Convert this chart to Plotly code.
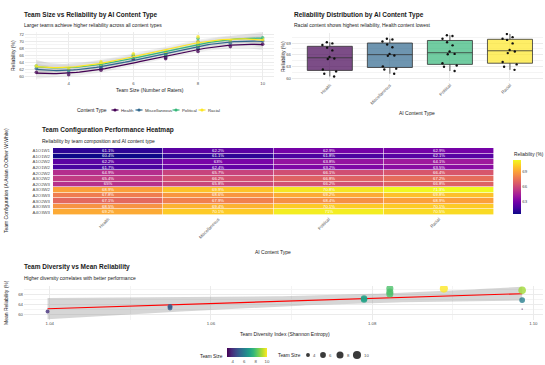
import numpy as np
import plotly.graph_objects as go

# ---------------- data ----------------
content_types = ["Health", "Miscellaneous", "Political", "Racial"]
type_colors = ["#440154", "#31688E", "#35B779", "#FDE725"]
type_fills = ["rgba(68,1,84,0.7)", "rgba(49,104,142,0.7)",
              "rgba(53,183,121,0.7)", "rgba(253,231,37,0.7)"]

team_configs = ["A1O1W1", "A1O1W2", "A1O2W2", "A2O1W2", "A2O2W2", "A3O2W2",
                "A2O2W3", "A3O3W2", "A2O3W3", "A3O2W3", "A3O3W3", "A4O3W3"]

# reliability (%) of each team configuration, per AI content type
rel_health = [61.1, 60.4, 62.2, 61.7, 64.9, 65.4, 65.0, 68.9, 67.8, 67.1, 68.5, 69.2]
rel_misc = [62.2, 61.1, 63.0, 62.4, 65.7, 66.2, 65.8, 69.9, 68.6, 67.9, 69.4, 70.1]
rel_political = [62.9, 61.8, 63.8, 63.2, 66.1, 66.8, 66.2, 70.8, 69.2, 68.4, 70.1, 71.0]
rel_racial = [62.9, 62.1, 64.1, 63.5, 66.4, 67.2, 66.8, 71.3, 69.8, 68.9, 70.1, 70.5]

size_ticks = [4, 6, 8, 10]
heat_ticks = [63, 66, 69]

reliability = {"Health": rel_health, "Miscellaneous": rel_misc,
               "Political": rel_political, "Racial": rel_racial}

# team composition (Asian, Other, White raters) parsed from the labels
counts = np.array([[int(c[1]), int(c[3]), int(c[5])] for c in team_configs], float)
team_size = counts.sum(axis=1)
shares = counts / team_size[:, None]
diversity = -(shares * np.log(shares)).sum(axis=1)          # Shannon entropy
rel_matrix = np.column_stack([reliability[t] for t in content_types])
mean_rel = rel_matrix.mean(axis=1)


# ---------------- statistics helpers ----------------
def t975(df):
    z = 1.959963985
    g1 = (z**3 + z) / 4
    g2 = (5 * z**5 + 16 * z**3 + 3 * z) / 96
    g3 = (3 * z**7 + 19 * z**5 + 17 * z**3 - 15 * z) / 384
    g4 = (79 * z**9 + 776 * z**7 + 1482 * z**5 - 1920 * z**3 - 945 * z) / 92160
    return z + g1 / df + g2 / df**2 + g3 / df**3 + g4 / df**4


def poly_band(x, y, grid, deg):
    """Least-squares polynomial fit with a 95% confidence band."""
    x = np.asarray(x, float)
    y = np.asarray(y, float)
    xm = x.mean()
    X = np.vander(x - xm, deg + 1)
    G = np.vander(np.asarray(grid, float) - xm, deg + 1)
    inv = np.linalg.inv(X.T @ X)
    beta = inv @ X.T @ y
    df = len(x) - (deg + 1)
    s = np.sqrt(np.sum((y - X @ beta) ** 2) / df)
    fit = G @ beta
    se = s * np.sqrt(np.einsum("ij,jk,ik->i", G, inv, G))
    t = t975(df)
    return fit, fit - t * se, fit + t * se


def point_diameter(v):
    # area-proportional size scale over the team-size range
    lo, hi = team_size.min(), team_size.max()
    return 1.35 * (1 + 5 * np.sqrt((np.asarray(v, float) - lo) / (hi - lo)))


# ---------------- figure ----------------
W, H = 545, 365
FONT = "Liberation Sans, Arial, sans-serif"
TICK = dict(family=FONT, size=4.3, color="#4d4d4d")
GRID = "#ebebeb"
MINOR = "#f4f4f4"


def px_x(v):
    return v / W


def px_y(v):
    return 1 - v / H


fig = go.Figure()

# panel 1: team size vs reliability, smoothed trend per content type
grid1 = np.linspace(team_size.min(), team_size.max(), 80)
bands1 = {t: poly_band(team_size, reliability[t], grid1, 3) for t in content_types}
for t in content_types:
    fit, lo, hi = bands1[t]
    fig.add_trace(go.Scatter(
        x=np.concatenate([grid1, grid1[::-1]]), y=np.concatenate([hi, lo[::-1]]),
        fill="toself", fillcolor="rgba(153,153,153,0.16)", line=dict(width=0),
        mode="lines", hoverinfo="skip", xaxis="x", yaxis="y"))
for t, c in zip(content_types, type_colors):
    fig.add_trace(go.Scatter(
        x=team_size, y=reliability[t], mode="markers", xaxis="x", yaxis="y",
        marker=dict(color=c, size=3.6, opacity=0.75, line=dict(width=0))))
for t, c in zip(content_types, type_colors):
    fit, lo, hi = bands1[t]
    fig.add_trace(go.Scatter(x=grid1, y=fit, mode="lines", xaxis="x", yaxis="y",
                             line=dict(color=c, width=1.2)))

# panel 2: distribution box plots
for t, f in zip(content_types, type_fills):
    fig.add_trace(go.Box(
        x=[t] * len(reliability[t]), y=reliability[t], name=t, xaxis="x2", yaxis="y2",
        fillcolor=f, line=dict(color="#333333", width=0.8), whiskerwidth=0,
        boxpoints="all", jitter=0.45, pointpos=0, width=0.75,
        marker=dict(color="#111111", size=2.4)))

# panel 3: configuration heatmap
cell_text = [[f"{v:g}%" for v in row] for row in rel_matrix]
fig.add_trace(go.Heatmap(
    z=rel_matrix, x=content_types, y=team_configs, xaxis="x3", yaxis="y3",
    coloraxis="coloraxis", text=cell_text, texttemplate="%{text}",
    textfont=dict(family=FONT, size=4.2, color="white"), xgap=0.6, ygap=0.6))

# panel 4: diversity vs mean reliability, linear trend
grid4 = np.linspace(diversity.min(), diversity.max(), 80)
fit4, lo4, hi4 = poly_band(diversity, mean_rel, grid4, 1)
fig.add_trace(go.Scatter(
    x=np.concatenate([grid4, grid4[::-1]]), y=np.concatenate([hi4, lo4[::-1]]),
    fill="toself", fillcolor="rgba(153,153,153,0.4)", line=dict(width=0),
    mode="lines", hoverinfo="skip", xaxis="x4", yaxis="y4"))
fig.add_trace(go.Scatter(x=grid4, y=fit4, mode="lines", xaxis="x4", yaxis="y4",
                         line=dict(color="#ff0000", width=1.1)))
fig.add_trace(go.Scatter(
    x=diversity, y=mean_rel, mode="markers", xaxis="x4", yaxis="y4",
    marker=dict(color=team_size, coloraxis="coloraxis2", size=point_diameter(team_size),
                opacity=0.8, line=dict(width=0))))


def axis(**kw):
    d = dict(showgrid=True, gridcolor=GRID, gridwidth=0.6, zeroline=False, showline=False,
             ticks="", tickfont=TICK, automargin=False, fixedrange=True)
    d.update(kw)
    return d


fig.update_layout(
    template="none", width=W, height=H, margin=dict(l=0, r=0, t=0, b=0),
    paper_bgcolor="white", plot_bgcolor="white", showlegend=False,
    font=dict(family=FONT, color="#1a1a1a"),
    xaxis=axis(domain=[px_x(25), px_x(274)], range=[2.65, 10.35], anchor="y",
               tickvals=[4, 6, 8, 10],
               minor=dict(tickvals=[3, 5, 7, 9], showgrid=True, gridcolor=MINOR, gridwidth=0.4)),
    yaxis=axis(domain=[px_y(80), px_y(32)], range=[58.9, 72.7], anchor="x",
               tickvals=list(range(60, 73, 2)),
               minor=dict(tickvals=list(range(59, 73, 2)), showgrid=True, gridcolor=MINOR, gridwidth=0.4)),
    xaxis2=axis(domain=[px_x(292), px_x(543)], anchor="y2", type="category",
                categoryorder="array", categoryarray=content_types,
                range=[-0.63, 3.55], tickangle=-45),
    yaxis2=axis(domain=[px_y(81), px_y(33)], range=[59.23, 71.57], anchor="x2",
                tickvals=[60, 63, 66, 69],
                minor=dict(tickvals=[61.5, 64.5, 67.5, 70.5], showgrid=True, gridcolor=MINOR, gridwidth=0.4)),
    xaxis3=axis(domain=[px_x(53), px_x(494)], anchor="y3", showgrid=False, tickangle=-45),
    yaxis3=axis(domain=[px_y(215), px_y(148)], anchor="x3", showgrid=False,
                autorange="reversed", ticklabelstandoff=2),
    xaxis4=axis(domain=[px_x(24), px_x(543)], range=[1.0368, 1.1012], anchor="y4",
                tickvals=[1.04, 1.06, 1.08, 1.10], ticktext=["1.04", "1.06", "1.08", "1.10"],
                minor=dict(tickvals=[1.05, 1.07, 1.09], showgrid=True, gridcolor=MINOR, gridwidth=0.4)),
    yaxis4=axis(domain=[px_y(320), px_y(286)], range=[58.05, 71.2], anchor="x4",
                tickvals=[60, 64, 68],
                minor=dict(tickvals=[58, 62, 66, 70], showgrid=True, gridcolor=MINOR, gridwidth=0.4)),
    coloraxis=dict(colorscale="Plasma", colorbar=dict(
        x=px_x(513), xanchor="left", y=px_y(160), yanchor="top", len=54, lenmode="pixels",
        thickness=8, tickvals=heat_ticks, tickfont=TICK, outlinewidth=0, xpad=0, ypad=0,
        ticks="", ticklabelposition="outside")),
    coloraxis2=dict(colorscale="Viridis", cmin=team_size.min(), cmax=team_size.max(),
                    colorbar=dict(orientation="h", x=px_x(227), xanchor="left", y=px_y(348),
                                  yanchor="top", len=40, lenmode="pixels", thickness=9,
                                  tickvals=size_ticks, tickfont=TICK, outlinewidth=0,
                                  xpad=0, ypad=0, ticks="")),
)


def label(x, y, s, size=5.0, bold=False, color="#1a1a1a", xanchor="left", angle=0):
    fig.add_annotation(x=px_x(x), y=px_y(y), xref="paper", yref="paper",
                       text=f"<b>{s}</b>" if bold else s, showarrow=False,
                       font=dict(family=FONT, size=size, color=color),
                       xanchor=xanchor, yanchor="middle", textangle=angle, borderpad=0)


# titles and subtitles
label(23, 15, "Team Size vs Reliability by AI Content Type", 6.5, True)
label(23, 25.5, "Larger teams achieve higher reliability across all content types", 5.0)
label(293, 15, "Reliability Distribution by AI Content Type", 6.5, True)
label(293, 25.5, "Racial content shows highest reliability, Health content lowest", 5.0)
label(41, 130, "Team Configuration Performance Heatmap", 6.5, True)
label(41, 141, "Reliability by team composition and AI content type", 5.0)
label(23, 267, "Team Diversity vs Mean Reliability", 6.5, True)
label(23, 278, "Higher diversity correlates with better performance", 5.0)

# axis titles
label(150, 90, "Team Size (Number of Raters)", 5.0, xanchor="center")
label(13, 56, "Reliability (%)", 5.0, xanchor="center", angle=-90)
label(417, 113, "AI Content Type", 5.0, xanchor="center")
label(283, 57, "Reliability (%)", 5.0, xanchor="center", angle=-90)
label(273, 252, "AI Content Type", 5.0, xanchor="center")
label(6, 181, "Team Configuration (A:Asian O:Other W:White)", 5.0, xanchor="center", angle=-90)
label(285, 334, "Team Diversity Index (Shannon Entropy)", 5.0, xanchor="center")
label(6, 303, "Mean Reliability (%)", 5.0, xanchor="center", angle=-90)

# content type key
label(108, 110, "Content Type", 5.0, xanchor="right")
key_x = [115, 139, 176, 202]
for t, c, kx in zip(content_types, type_colors, key_x):
    fig.add_shape(type="line", xref="paper", yref="paper", x0=px_x(kx - 3.5), x1=px_x(kx + 3.5),
                  y0=px_y(110), y1=px_y(110), line=dict(color=c, width=1.2))
    fig.add_shape(type="circle", xref="paper", yref="paper", x0=px_x(kx - 1.6), x1=px_x(kx + 1.6),
                  y0=px_y(111.6), y1=px_y(108.4), fillcolor=c, line=dict(width=0))
    label(kx + 5, 110, t, 4.3, color="#333333")

# heatmap colour key title
label(513, 155, "Reliability (%)", 4.8)

# team size keys
label(224, 356, "Team Size", 4.8, xanchor="right")
label(277, 355, "Team Size", 4.8)
size_key_x = [308, 323, 340, 357]
for v, kx in zip(size_ticks, size_key_x):
    r = float(point_diameter(v)) / 2
    fig.add_shape(type="circle", xref="paper", yref="paper", x0=px_x(kx - r), x1=px_x(kx + r),
                  y0=px_y(355 + r), y1=px_y(355 - r), fillcolor="#3a3a3a", line=dict(width=0))
    label(kx + r + 2, 355, str(v), 4.3, color="#4d4d4d")

fig.write_html("out.html")
